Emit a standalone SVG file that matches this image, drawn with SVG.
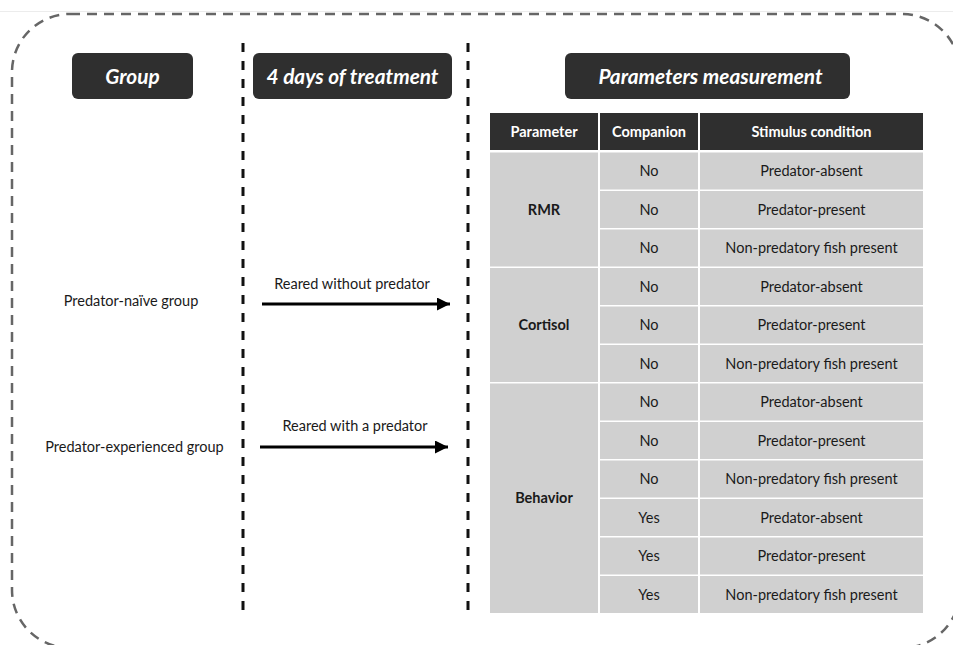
<svg xmlns="http://www.w3.org/2000/svg" width="953" height="645" viewBox="0 0 953 645">
<style>
  .frame{fill:none;stroke:#666;stroke-width:2.5;stroke-dasharray:10 7}
  .sep{stroke:#111;stroke-width:3;stroke-dasharray:9 9}
  .hbox{fill:#2f2f2f}
  .htxt{font-family:"Lato","Liberation Sans",sans-serif;font-size:20.8px;font-weight:700;font-style:italic;fill:#fff;text-anchor:middle}
  .th{fill:#2f2f2f}
  .tht{font-family:"Lato","Liberation Sans",sans-serif;font-size:14.5px;font-weight:700;fill:#fff;text-anchor:middle}
  .td{fill:#d0d0d0}
  .tdt{font-family:"Lato","Liberation Sans",sans-serif;font-size:14.5px;fill:#1a1a1a;text-anchor:middle}
  .tdb{font-family:"Lato","Liberation Sans",sans-serif;font-size:14.5px;font-weight:700;fill:#1a1a1a;text-anchor:middle}
  .lbl{font-family:"Lato","Liberation Sans",sans-serif;font-size:14.5px;fill:#1a1a1a;text-anchor:middle}
  .arr{stroke:#000;stroke-width:3;fill:none}
</style>
<defs>
  <marker id="ah" markerWidth="14" markerHeight="14" refX="13" refY="6.5" orient="auto" markerUnits="userSpaceOnUse">
    <path d="M0,0 L13,6.5 L0,13 Z" fill="#000"/>
  </marker>
</defs>
<rect width="953" height="645" fill="#fff"/>
<line x1="0" y1="11.5" x2="953" y2="11.5" stroke="#ececec" stroke-width="1"/>
<rect class="frame" x="12" y="14" width="948" height="634" rx="58" ry="58"/>
<g id="separators">
  <line class="sep" x1="243" y1="43" x2="243" y2="613"/>
  <line class="sep" x1="468" y1="43" x2="468" y2="613"/>
</g>
<g id="hdr-group"><rect class="hbox" x="72" y="53" width="121" height="46" rx="6"/><text class="htxt" x="132.5" y="83.5">Group</text></g>
<g id="hdr-treatment"><rect class="hbox" x="253" y="53" width="199" height="46" rx="6"/><text class="htxt" x="352.5" y="83.5">4 days of treatment</text></g>
<g id="hdr-params"><rect class="hbox" x="565" y="53" width="285" height="46" rx="6"/><text class="htxt" x="710.5" y="83.5">Parameters measurement</text></g>
<g id="naive"><text class="lbl" x="131" y="306">Predator-naïve group</text></g>
<g id="experienced"><text class="lbl" x="134.5" y="452">Predator-experienced group</text></g>
<g id="connectors">
  <line class="arr" x1="262" y1="304" x2="450" y2="304" marker-end="url(#ah)"/>
  <text class="lbl" x="352" y="289">Reared without predator</text>
  <line class="arr" x1="260" y1="447" x2="448" y2="447" marker-end="url(#ah)"/>
  <text class="lbl" x="355" y="431">Reared with a predator</text>
</g>
<g id="table">
  <rect class="th" x="490" y="113" width="108" height="37"/>
  <rect class="th" x="600" y="113" width="98" height="37"/>
  <rect class="th" x="700" y="113" width="223" height="37"/>
  <text class="tht" x="544" y="137">Parameter</text>
  <text class="tht" x="649" y="137">Companion</text>
  <text class="tht" x="811.5" y="137">Stimulus condition</text>
  <rect class="td" x="490" y="152.5" width="108" height="114"/>
  <rect class="td" x="490" y="268" width="108" height="114"/>
  <rect class="td" x="490" y="383.5" width="108" height="229.5"/>
  <text class="tdb" x="544" y="214.5">RMR</text>
  <text class="tdb" x="544" y="330">Cortisol</text>
  <text class="tdb" x="544" y="503">Behavior</text>
  <g id="rows">
    <rect class="td" x="600" y="152.5" width="98" height="37"/><rect class="td" x="700" y="152.5" width="223" height="37"/>
    <text class="tdt" x="649" y="176">No</text><text class="tdt" x="811.5" y="176">Predator-absent</text>
    <rect class="td" x="600" y="191" width="98" height="37"/><rect class="td" x="700" y="191" width="223" height="37"/>
    <text class="tdt" x="649" y="214.5">No</text><text class="tdt" x="811.5" y="214.5">Predator-present</text>
    <rect class="td" x="600" y="229.5" width="98" height="37"/><rect class="td" x="700" y="229.5" width="223" height="37"/>
    <text class="tdt" x="649" y="253">No</text><text class="tdt" x="811.5" y="253">Non-predatory fish present</text>
    <rect class="td" x="600" y="268" width="98" height="37"/><rect class="td" x="700" y="268" width="223" height="37"/>
    <text class="tdt" x="649" y="291.5">No</text><text class="tdt" x="811.5" y="291.5">Predator-absent</text>
    <rect class="td" x="600" y="306.5" width="98" height="37"/><rect class="td" x="700" y="306.5" width="223" height="37"/>
    <text class="tdt" x="649" y="330">No</text><text class="tdt" x="811.5" y="330">Predator-present</text>
    <rect class="td" x="600" y="345" width="98" height="37"/><rect class="td" x="700" y="345" width="223" height="37"/>
    <text class="tdt" x="649" y="368.5">No</text><text class="tdt" x="811.5" y="368.5">Non-predatory fish present</text>
    <rect class="td" x="600" y="383.5" width="98" height="37"/><rect class="td" x="700" y="383.5" width="223" height="37"/>
    <text class="tdt" x="649" y="407">No</text><text class="tdt" x="811.5" y="407">Predator-absent</text>
    <rect class="td" x="600" y="422" width="98" height="37"/><rect class="td" x="700" y="422" width="223" height="37"/>
    <text class="tdt" x="649" y="445.5">No</text><text class="tdt" x="811.5" y="445.5">Predator-present</text>
    <rect class="td" x="600" y="460.5" width="98" height="37"/><rect class="td" x="700" y="460.5" width="223" height="37"/>
    <text class="tdt" x="649" y="484">No</text><text class="tdt" x="811.5" y="484">Non-predatory fish present</text>
    <rect class="td" x="600" y="499" width="98" height="37"/><rect class="td" x="700" y="499" width="223" height="37"/>
    <text class="tdt" x="649" y="522.5">Yes</text><text class="tdt" x="811.5" y="522.5">Predator-absent</text>
    <rect class="td" x="600" y="537.5" width="98" height="37"/><rect class="td" x="700" y="537.5" width="223" height="37"/>
    <text class="tdt" x="649" y="561">Yes</text><text class="tdt" x="811.5" y="561">Predator-present</text>
    <rect class="td" x="600" y="576" width="98" height="37"/><rect class="td" x="700" y="576" width="223" height="37"/>
    <text class="tdt" x="649" y="599.5">Yes</text><text class="tdt" x="811.5" y="599.5">Non-predatory fish present</text>
  </g>
</g>
</svg>
